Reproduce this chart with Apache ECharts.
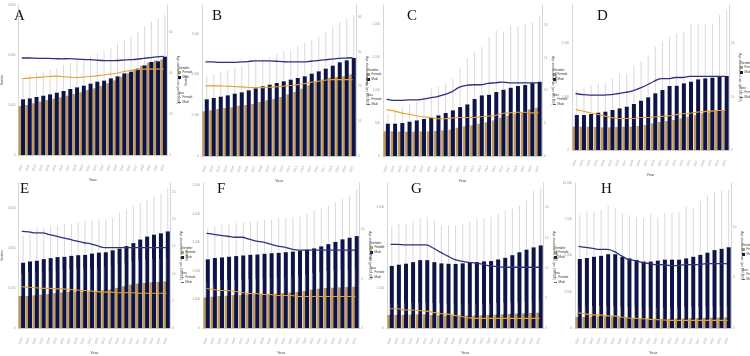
<!DOCTYPE html>
<html>
<head>
<meta charset="utf-8">
<script src="https://cdn.jsdelivr.net/npm/echarts@6/dist/echarts.min.js"></script>
<style>html,body{margin:0;padding:0;background:#fff}#main{width:750px;height:356px}</style>
</head>
<body>
<div id="main"></div>
<script>
var myChart = echarts.init(document.getElementById('main'));

var years = ['2000','2001','2002','2003','2004','2005','2006','2007','2008','2009','2010',
             '2011','2012','2013','2014','2015','2016','2017','2018','2019','2020','2021'];

// A
var femaleA = [980,1000,1033,1067,1100,1127,1153,1187,1220,1253,1300,1333,1380,1433,1493,1567,1633,1713,1787,1847,1887,1913];
var maleA = [1113,1133,1160,1187,1213,1247,1280,1320,1353,1387,1427,1467,1487,1533,1573,1633,1667,1727,1793,1860,1873,1967];
var maleUpA = [1500,1600,1633,1667,1700,1733,1800,1833,1900,1933,2000,2033,2067,2133,2233,2300,2367,2467,2567,2667,2733,2800];
var rateFemaleA = [37.1,37.4,37.7,37.9,38.2,38.4,38.2,37.9,37.7,37.9,38.2,38.5,38.9,39.3,39.8,40.5,41.1,41.5,41.8,41.8,41.8,41.8];
var rateMaleA = [47.2,47.2,47.1,47.0,47.0,46.9,46.8,46.9,46.7,46.5,46.4,46.2,46.0,45.9,46.0,46.2,46.4,46.6,47.0,47.4,47.8,48.0];
// B
var femaleB = [2746,2807,2889,2951,2992,3094,3135,3197,3320,3422,3504,3627,3791,3934,4139,4344,4549,4692,4815,4856,4897,5020];
var maleB = [3484,3565,3647,3729,3832,3914,4037,4160,4283,4385,4488,4590,4693,4795,4898,5061,5205,5369,5553,5758,5881,6024];
var maleUpB = [4897,5020,5163,5266,5409,5512,5676,5922,5983,6085,6249,6454,6536,6803,6946,7110,7356,7622,7930,8237,8442,8647];
var rateFemaleB = [20.2,20.2,20.2,20.1,20.0,19.9,19.8,19.7,19.7,19.8,19.9,20.1,20.3,20.5,20.8,21.2,21.5,21.8,22.0,22.0,22.0,22.0];
var rateMaleB = [27.1,27.1,27.0,27.0,27.0,27.1,27.2,27.4,27.4,27.4,27.3,27.2,27.1,27.1,27.1,27.3,27.5,27.7,27.9,28.1,28.2,28.3];
// C
var femaleC = [374,374,369,369,369,374,374,379,389,399,429,449,465,490,510,540,581,611,641,667,707,732];
var maleC = [490,490,500,520,540,561,581,616,652,692,742,783,864,919,929,970,1005,1035,1061,1076,1106,1126];
var maleUpC = [641,692,742,783,818,894,1020,1055,1096,1172,1348,1475,1576,1651,1803,1904,1879,1980,1965,2005,2030,2131];
var rateFemaleC = [7.1,6.9,6.6,6.4,6.2,6.0,5.9,5.7,5.7,5.8,5.9,5.9,5.9,6.0,6.1,6.2,6.5,6.6,6.7,6.7,6.6,6.6];
var rateMaleC = [8.7,8.5,8.5,8.6,8.6,8.7,8.9,9.1,9.4,9.8,10.5,10.8,10.9,10.9,11.1,11.2,11.3,11.2,11.2,11.2,11.2,11.2];
// D
var femaleD = [438,438,438,431,425,425,431,438,438,450,469,500,525,544,563,594,625,656,688,706,731,750];
var maleD = [656,656,675,700,719,750,781,813,863,925,988,1063,1125,1200,1205,1250,1281,1325,1344,1356,1375,1388];
var maleUpD = [1125,1175,1219,1250,1250,1344,1438,1438,1594,1656,1781,1938,2031,2125,2188,2219,2375,2375,2375,2375,2531,2625];
var rateFemaleD = [7.6,7.3,7.0,6.7,6.4,6.1,5.9,5.9,5.9,6.1,6.1,6.2,6.3,6.4,6.6,6.8,6.9,7.1,7.2,7.3,7.4,7.4];
var rateMaleD = [10.6,10.4,10.3,10.3,10.3,10.4,10.6,10.8,11.1,11.6,12.2,12.9,13.4,13.4,13.6,13.6,13.8,13.8,13.8,13.8,13.8,13.8];
// E
var femaleE = [803,803,820,836,852,877,893,910,918,918,918,926,943,967,1008,1049,1090,1115,1131,1148,1156,1172];
var maleE = [1639,1672,1689,1730,1754,1779,1787,1811,1828,1836,1869,1893,1902,1951,1992,2057,2131,2221,2295,2344,2377,2426];
var maleUpE = [2320,2443,2525,2525,2566,2582,2607,2607,2648,2689,2705,2730,2730,2770,2893,2975,3057,3139,3221,3303,3385,3508];
var femaleUpE = [1370,1395,1400,1418,1433,1452,1470,1481,1490,1492,1495,1503,1524,1551,1590,1628,1669,1695,1711,1733,1740,1760];
var rateFemaleE = [7.6,7.5,7.4,7.3,7.3,7.2,7.2,7.1,7.0,6.9,6.8,6.7,6.6,6.6,6.5,6.5,6.5,6.4,6.4,6.4,6.4,6.4];
var rateMaleE = [17.8,17.7,17.5,17.5,17.2,16.9,16.6,16.3,16.0,15.7,15.5,15.1,14.8,14.8,14.8,14.8,14.8,14.8,14.8,14.8,14.8,14.8];
// F
var femaleF = [1073,1096,1119,1130,1153,1164,1175,1186,1186,1198,1198,1220,1243,1266,1299,1345,1379,1401,1412,1424,1435,1446];
var maleF = [2407,2452,2475,2497,2520,2542,2565,2576,2599,2621,2633,2655,2678,2701,2746,2791,2859,2938,3017,3107,3164,3220];
var maleUpF = [3503,3559,3616,3650,3672,3695,3729,3751,3785,3808,3842,3864,3876,3898,3989,4124,4181,4294,4407,4520,4633,4859];
var femaleUpF = [1610,1640,1660,1675,1690,1700,1712,1725,1730,1745,1750,1770,1800,1830,1870,1930,1975,2005,2020,2040,2055,2070];
var rateFemaleF = [4.0,3.9,3.8,3.8,3.7,3.6,3.5,3.5,3.4,3.4,3.3,3.3,3.3,3.2,3.2,3.2,3.2,3.2,3.2,3.2,3.2,3.2];
var rateMaleF = [9.6,9.5,9.4,9.3,9.2,9.2,9.0,8.8,8.7,8.5,8.3,8.2,8.0,7.9,7.9,7.9,7.9,7.9,7.9,7.9,7.9,7.9];
// G
var femaleG = [325,325,325,333,341,341,325,317,309,309,309,309,309,317,325,333,341,350,358,366,374,382];
var maleG = [1545,1577,1602,1640,1690,1690,1640,1610,1600,1595,1610,1626,1642,1659,1667,1707,1748,1813,1886,1951,2008,2057];
var maleUpG = [2520,2602,2602,2667,2748,2764,2683,2561,2561,2545,2602,2642,2707,2724,2764,2846,2927,2967,3049,3171,3415,3496];
var femaleUpG = [610,615,620,625,630,628,620,612,605,600,598,600,603,608,615,622,630,640,650,660,668,675];
var rateFemaleG = [3.2,3.2,3.0,3.0,2.9,2.8,2.6,2.4,2.3,2.1,1.9,1.7,1.6,1.6,1.6,1.6,1.6,1.6,1.6,1.6,1.6,1.6];
var rateMaleG = [13.9,13.9,13.8,13.8,13.8,13.8,13.3,12.6,12.0,11.4,11.1,10.9,10.8,10.6,10.3,10.2,10.1,10.1,10.1,10.1,10.1,10.1];
// H
var femaleH = [768,768,789,811,811,789,746,724,680,658,636,636,636,636,658,658,680,680,702,724,724,724];
var maleH = [4759,4825,4912,4978,5088,5088,4912,4803,4693,4583,4583,4649,4715,4715,4715,4803,4912,5044,5197,5373,5461,5570];
var maleUpH = [7785,8048,8004,8158,8443,8268,7939,7785,7610,7566,7829,7654,7939,7939,8004,8377,8268,8772,9145,9364,9474,9539];
var femaleUpH = [1490,1500,1510,1520,1530,1515,1480,1460,1440,1420,1410,1410,1415,1420,1425,1435,1445,1455,1465,1475,1480,1485];
var rateFemaleH = [1.5,1.4,1.3,1.3,1.2,1.2,1.1,1.0,0.96,0.92,0.86,0.83,0.80,0.76,0.76,0.76,0.76,0.76,0.76,0.76,0.76,0.76];
var rateMaleH = [8.1,8.0,7.9,7.8,7.8,7.6,7.2,6.8,6.7,6.5,6.4,6.3,6.3,6.2,6.2,6.3,6.3,6.3,6.4,6.4,6.4,6.4];

var panelData = [
    [femaleA, maleA, maleUpA, null, rateFemaleA, rateMaleA],
    [femaleB, maleB, maleUpB, null, rateFemaleB, rateMaleB],
    [femaleC, maleC, maleUpC, null, rateFemaleC, rateMaleC],
    [femaleD, maleD, maleUpD, null, rateFemaleD, rateMaleD],
    [femaleE, maleE, maleUpE, femaleUpE, rateFemaleE, rateMaleE],
    [femaleF, maleF, maleUpF, femaleUpF, rateFemaleF, rateMaleF],
    [femaleG, maleG, maleUpG, femaleUpG, rateFemaleG, rateMaleG],
    [femaleH, maleH, maleUpH, femaleUpH, rateFemaleH, rateMaleH]
];

// panel frames (pixels) and axis ranges
var layout = [
    {key:'A', left:12,  right:167, top:5,   zero:155, lmax:3000, lstep:1000, rmax:73,   rstep:20, legY:66,  lx:14,  ly:9},
    {key:'B', left:202, right:356, top:5,   zero:156, lmax:9280, lstep:2500, rmax:43.5, rstep:10, legY:68,  lx:212, ly:9},
    {key:'C', left:383, right:542, top:5,   zero:156, lmax:2290, lstep:500,  rmax:23.1, rstep:5,  legY:68,  lx:407, ly:9},
    {key:'D', left:572, right:729, top:5,   zero:150, lmax:2720, lstep:1000, rmax:27.2, rstep:10, legY:61,  lx:597, ly:9},
    {key:'E', left:12,  right:170, top:183, zero:331, lmax:3640, lstep:1000, rmax:26.7, rstep:5,  legY:246, lx:20,  ly:182},
    {key:'F', left:203, right:359, top:183, zero:333, lmax:5080, lstep:1000, rmax:14.7, rstep:5,  legY:241, lx:217, ly:182},
    {key:'G', left:387, right:543, top:183, zero:331, lmax:3610, lstep:1000, rmax:24.1, rstep:5,  legY:246, lx:411, ly:182},
    {key:'H', left:575, right:731, top:183, zero:334, lmax:10000, lstep:2500, rmax:14.4, rstep:5, legY:243, lx:601, ly:182}
];

var TAN = '#bf9a5c', NAVY = '#0e1446', TANLINE = '#e3a12f', NAVYLINE = '#2c3180', ERR = '#c8c8c8';

function errorBar(shift) {
    return function (params, api) {
        var lo = api.coord([api.value(0), api.value(1)]);
        var hi = api.coord([api.value(0), api.value(2)]);
        return {
            type: 'line',
            shape: {x1: lo[0] + shift, y1: lo[1], x2: hi[0] + shift, y2: hi[1]},
            style: {stroke: ERR, lineWidth: 0.7}
        };
    };
}

function fmt(v) { return Number(v).toLocaleString('en-US'); }

var grids = [], xAxes = [], yAxes = [], series = [], graphics = [];

layout.forEach(function (p, i) {
    var d = panelData[i];
    grids.push({left: p.left, top: p.top, width: p.right - p.left, height: p.zero - p.top, containLabel: false});
    xAxes.push({
        type: 'category', gridIndex: i, data: years, offset: 7,
        axisLine: {lineStyle: {color: '#aaaaaa', width: 0.6}},
        axisTick: {show: false},
        axisLabel: {rotate: 70, fontSize: 3, color: '#999', margin: 3, interval: 0},
        name: 'Year', nameLocation: 'middle', nameGap: 16,
        nameTextStyle: {fontSize: 4, color: '#444'}
    });
    yAxes.push({
        type: 'value', gridIndex: i, min: 0, max: p.lmax, interval: p.lstep,
        splitLine: {show: false},
        axisLine: {show: true, lineStyle: {color: '#bbbbbb', width: 0.6}},
        axisTick: {show: false},
        axisLabel: {fontSize: 3, color: '#999', margin: 3, showMaxLabel: p.lmax % p.lstep === 0, formatter: fmt},
        name: 'Number', nameLocation: 'middle', nameGap: 9,
        nameTextStyle: {fontSize: 3, color: '#555'}
    });
    yAxes.push({
        type: 'value', gridIndex: i, position: 'right', min: 0, max: p.rmax, interval: p.rstep,
        splitLine: {show: false},
        axisLine: {show: true, lineStyle: {color: '#bbbbbb', width: 0.6}},
        axisTick: {show: false},
        axisLabel: {fontSize: 3, color: '#999', margin: 2, showMaxLabel: false},
        name: 'Age-standardized rate (per 100,000)', nameLocation: 'middle', nameGap: 4, nameRotate: -90,
        nameTextStyle: {fontSize: 3, color: '#555'}
    });
    var yl = i * 2, yr = i * 2 + 1;
    series.push({type: 'bar', xAxisIndex: i, yAxisIndex: yl, data: d[0], barWidth: 5, barGap: '-50%',
        itemStyle: {color: TAN}, z: 2, silent: true});
    series.push({type: 'bar', xAxisIndex: i, yAxisIndex: yl, data: d[1], barWidth: 4, barGap: '-50%',
        itemStyle: {color: NAVY}, z: 2, silent: true});
    series.push({type: 'custom', xAxisIndex: i, yAxisIndex: yl, renderItem: errorBar(1.25), z: 3, silent: true,
        data: d[1].map(function (v, k) { return [k, v, d[2][k]]; })});
    if (d[3]) {
        series.push({type: 'custom', xAxisIndex: i, yAxisIndex: yl, renderItem: errorBar(-0.75), z: 3, silent: true,
            data: d[0].map(function (v, k) { return [k, v, d[3][k]]; })});
    }
    series.push({type: 'line', xAxisIndex: i, yAxisIndex: yr, data: d[4], smooth: 0.4, showSymbol: false, z: 5,
        lineStyle: {color: TANLINE, width: 1.1}});
    series.push({type: 'line', xAxisIndex: i, yAxisIndex: yr, data: d[5], smooth: 0.4, showSymbol: false, z: 5,
        lineStyle: {color: NAVYLINE, width: 1.3}});

    graphics.push({type: 'text', x: p.lx, y: p.ly,
        style: {text: p.key, fontSize: 15, fontFamily: 'Liberation Serif', fill: '#111'}});
    graphics.push({type: 'group', x: p.right + 11, y: p.legY, children: [
        {type: 'text', x: 0, y: 0, style: {text: 'Gender', fontSize: 3.5, fill: '#333'}},
        {type: 'rect', x: 0, y: 5, shape: {width: 3, height: 3}, style: {fill: TAN}},
        {type: 'text', x: 4.5, y: 5, style: {text: 'Female', fontSize: 3, fill: '#333'}},
        {type: 'rect', x: 0, y: 10, shape: {width: 3, height: 3}, style: {fill: NAVY}},
        {type: 'text', x: 4.5, y: 10, style: {text: 'Male', fontSize: 3, fill: '#333'}},
        {type: 'text', x: 0, y: 25, style: {text: 'Sex', fontSize: 3.5, fill: '#333'}},
        {type: 'line', shape: {x1: 0, y1: 31.5, x2: 3, y2: 31.5}, style: {stroke: TANLINE, lineWidth: 0.8}},
        {type: 'text', x: 4.5, y: 30, style: {text: 'Female', fontSize: 3, fill: '#333'}},
        {type: 'line', shape: {x1: 0, y1: 36.5, x2: 3, y2: 36.5}, style: {stroke: NAVYLINE, lineWidth: 0.8}},
        {type: 'text', x: 4.5, y: 35, style: {text: 'Male', fontSize: 3, fill: '#333'}}
    ]});
});

option = {
    animation: false,
    backgroundColor: '#ffffff',
    grid: grids,
    xAxis: xAxes,
    yAxis: yAxes,
    series: series,
    graphic: graphics
};

myChart.setOption(option);
</script>
</body>
</html>
